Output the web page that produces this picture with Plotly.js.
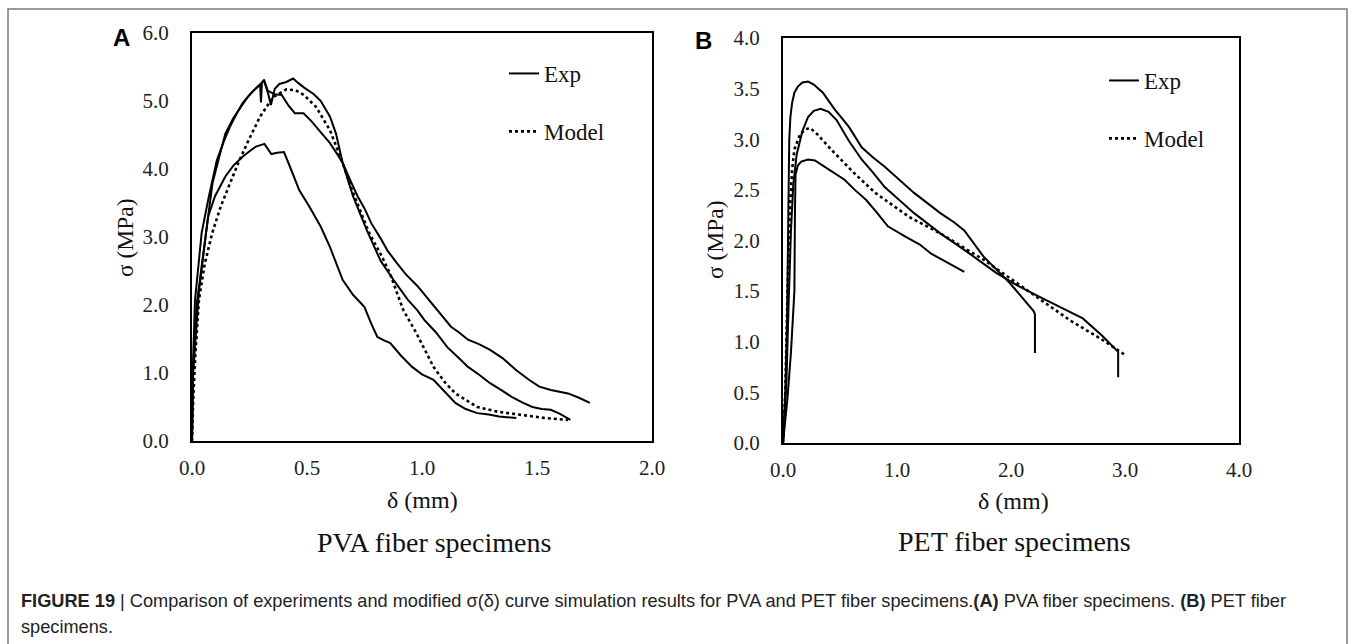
<!DOCTYPE html>
<html>
<head>
<meta charset="utf-8">
<script src="https://cdn.plot.ly/plotly-3.0.1.min.js"></script>
<style>html,body{margin:0;padding:0;background:#fff;}#chart{width:1356px;height:644px;}</style>
</head>
<body>
<div id="chart"></div>
<script>
// ---- Panel A: PVA fiber specimens (delta mm, sigma MPa) ----
const pvaExp1X = [0,0.003,0.013,0.042,0.07,0.108,0.14,0.165,0.195,0.22,0.26,0.285,0.296,0.3,0.304,0.313,0.33,0.36,0.39,0.42,0.447,0.485,0.52,0.55,0.6,0.635,0.655,0.69,0.72,0.75,0.78,0.82,0.85,0.89,0.93,0.98,1.03,1.08,1.126,1.16,1.2,1.25,1.296,1.35,1.41,1.465,1.51,1.56,1.6,1.635,1.68,1.73];
const pvaExp1Y = [0,1.0,2.07,3.06,3.54,4.13,4.42,4.62,4.82,4.97,5.13,5.2,5.24,4.98,5.27,5.31,5.15,5.1,5.09,4.93,4.82,4.82,4.7,4.58,4.38,4.2,4.09,3.82,3.6,3.42,3.2,2.98,2.8,2.62,2.45,2.28,2.07,1.86,1.68,1.6,1.49,1.42,1.34,1.22,1.04,0.9,0.8,0.75,0.72,0.7,0.64,0.56];
const pvaExp2X = [0,0.004,0.02,0.051,0.089,0.12,0.145,0.18,0.21,0.24,0.27,0.3,0.313,0.33,0.343,0.36,0.38,0.41,0.44,0.46,0.486,0.53,0.56,0.6,0.626,0.655,0.7,0.76,0.82,0.88,0.94,0.98,1.01,1.06,1.11,1.16,1.2,1.25,1.296,1.34,1.39,1.44,1.48,1.52,1.56,1.6,1.645];
const pvaExp2Y = [0,1.0,2.0,2.8,3.79,4.2,4.52,4.75,4.91,5.05,5.16,5.26,5.3,5.12,4.94,5.18,5.25,5.28,5.33,5.27,5.2,5.1,5.0,4.77,4.52,4.09,3.6,3.1,2.65,2.35,2.07,1.92,1.78,1.6,1.38,1.22,1.09,0.97,0.85,0.76,0.65,0.56,0.5,0.47,0.46,0.4,0.31];
const pvaExp3X = [0,0.005,0.03,0.07,0.1,0.145,0.18,0.22,0.25,0.278,0.315,0.33,0.345,0.37,0.4,0.43,0.466,0.51,0.56,0.6,0.655,0.7,0.75,0.78,0.806,0.835,0.862,0.91,0.957,1.0,1.05,1.1,1.145,1.19,1.24,1.29,1.335,1.37,1.41];
const pvaExp3Y = [0,1.0,2.2,3.3,3.6,3.89,4.05,4.18,4.26,4.33,4.37,4.3,4.22,4.24,4.25,4.0,3.69,3.45,3.15,2.85,2.37,2.15,1.97,1.72,1.53,1.48,1.44,1.25,1.09,0.98,0.9,0.72,0.56,0.47,0.41,0.39,0.36,0.35,0.34];
const pvaModelX = [0,0.005,0.015,0.03,0.055,0.088,0.125,0.165,0.2,0.24,0.296,0.353,0.41,0.45,0.486,0.54,0.6,0.655,0.69,0.73,0.77,0.82,0.86,0.918,0.975,1.05,1.1,1.145,1.19,1.24,1.33,1.43,1.53,1.635];
const pvaModelY = [0,0.6,1.3,2.07,2.6,3.06,3.45,3.79,4.08,4.38,4.77,5.06,5.17,5.16,5.09,4.91,4.57,4.09,3.74,3.4,3.06,2.75,2.47,1.93,1.59,1.09,0.86,0.7,0.6,0.5,0.43,0.38,0.34,0.31];

// ---- Panel B: PET fiber specimens ----
const petExp1X = [0,0.02,0.035,0.045,0.055,0.065,0.08,0.1,0.13,0.17,0.22,0.27,0.35,0.45,0.58,0.69,0.79,0.89,1.0,1.15,1.38,1.5,1.59,1.76,1.99,2.2,2.21,2.21];
const petExp1Y = [0,0.5,1.2,2.2,3.0,3.22,3.36,3.46,3.52,3.56,3.57,3.54,3.46,3.3,3.12,2.92,2.82,2.73,2.62,2.47,2.27,2.18,2.1,1.84,1.58,1.3,1.27,0.89];
const petExp2X = [0,0.03,0.05,0.07,0.09,0.12,0.17,0.22,0.27,0.33,0.4,0.47,0.58,0.69,0.79,0.89,1.0,1.15,1.38,1.6,1.87,2.05,2.22,2.4,2.63,2.8,2.94,2.94];
const petExp2Y = [0,0.6,1.4,2.1,2.55,2.85,3.08,3.22,3.28,3.3,3.27,3.19,2.98,2.8,2.67,2.53,2.42,2.27,2.07,1.9,1.68,1.56,1.46,1.36,1.23,1.06,0.9,0.65];
const petExp3X = [0,0.04,0.07,0.09,0.1,0.105,0.11,0.13,0.16,0.22,0.28,0.35,0.45,0.54,0.63,0.73,0.82,0.92,1.07,1.2,1.3,1.45,1.59];
const petExp3Y = [0,0.45,0.9,1.25,1.5,2.3,2.65,2.74,2.78,2.8,2.79,2.74,2.67,2.6,2.5,2.4,2.28,2.14,2.04,1.96,1.87,1.78,1.69];
const petModelX = [0,0.02,0.04,0.06,0.08,0.1,0.15,0.2,0.24,0.3,0.43,0.62,0.81,1.11,1.38,1.76,2.14,2.52,2.8,3.0];
const petModelY = [0,0.5,1.5,2.3,2.7,2.9,3.05,3.1,3.11,3.05,2.89,2.67,2.47,2.23,2.07,1.81,1.51,1.21,1.02,0.87];

// tick labels
const pvaXTicks = [0, 0.5, 1.0, 1.5, 2.0];
const pvaYTicks = [0, 1, 2, 3, 4, 5, 6];
const petXTicks = [0, 1, 2, 3, 4];
const petYTicks = [0, 0.5, 1.0, 1.5, 2.0, 2.5, 3.0, 3.5, 4.0];

const W = 1356, H = 644;
const px = v => v / W;
const py = v => 1 - v / H;
const SERIF = '"Liberation Serif", "Times New Roman", serif';
const SANS = '"Liberation Sans", Arial, sans-serif';

const expLine = {color: '#000', width: 2};
const modelLine = {color: '#000', width: 2.6, dash: 'dot'};

function tr(x, y, xa, ya, line, name, show, leg, grp) {
  return {x, y, xaxis: xa, yaxis: ya, type: 'scatter', mode: 'lines', line,
          name, showlegend: show, legend: leg, legendgroup: grp, hoverinfo: 'skip'};
}

const data = [
  tr(pvaExp1X, pvaExp1Y, 'x', 'y', expLine, 'Exp', true, 'legend', 'e'),
  tr(pvaExp2X, pvaExp2Y, 'x', 'y', expLine, 'Exp', false, 'legend', 'e'),
  tr(pvaExp3X, pvaExp3Y, 'x', 'y', expLine, 'Exp', false, 'legend', 'e'),
  tr(pvaModelX, pvaModelY, 'x', 'y', modelLine, 'Model', true, 'legend', 'm'),
  tr(petExp1X, petExp1Y, 'x2', 'y2', expLine, 'Exp', true, 'legend2', 'e'),
  tr(petExp2X, petExp2Y, 'x2', 'y2', expLine, 'Exp', false, 'legend2', 'e'),
  tr(petExp3X, petExp3Y, 'x2', 'y2', expLine, 'Exp', false, 'legend2', 'e'),
  tr(petModelX, petModelY, 'x2', 'y2', modelLine, 'Model', true, 'legend2', 'm')
];

const tickFont = {family: SERIF, size: 21, color: '#222'};
function xax(domain, range, tv) {
  return {domain, range, tickvals: tv, tickformat: '.1f', ticks: '', showgrid: false, zeroline: false,
          showline: true, mirror: true, linecolor: '#000', linewidth: 2, tickfont: tickFont,
          ticklabelstandoff: 7, fixedrange: true};
}
function yax(domain, range, tv, anchor) {
  return {domain, range, tickvals: tv, tickformat: '.1f', ticks: '', showgrid: false, zeroline: false,
          showline: true, mirror: true, linecolor: '#000', linewidth: 2, tickfont: tickFont,
          ticklabelstandoff: 17, anchor, fixedrange: true};
}

const legendBase = {bgcolor: 'rgba(0,0,0,0)', borderwidth: 0, font: {family: SERIF, size: 23, color: '#111'},
                    traceorder: 'grouped', tracegroupgap: 25, xanchor: 'left', yanchor: 'top'};

const ann = (text, x, y, size, opts = {}) => Object.assign({
  text, x: px(x), y: py(y), xref: 'paper', yref: 'paper', showarrow: false,
  font: {family: SERIF, size, color: '#111'}, xanchor: 'center', yanchor: 'middle'}, opts);

const layout = {
  width: W, height: H, margin: {l: 0, r: 0, t: 0, b: 0},
  paper_bgcolor: '#fff', plot_bgcolor: '#fff', showlegend: true,
  xaxis: Object.assign(xax([px(192), px(652)], [0, 2], pvaXTicks), {anchor: 'y'}),
  yaxis: yax([py(441), py(33)], [0, 6], pvaYTicks, 'x'),
  xaxis2: Object.assign(xax([px(783), px(1239)], [0, 4], petXTicks), {anchor: 'y2'}),
  yaxis2: yax([py(443), py(38)], [0, 4], petYTicks, 'x2'),
  legend: Object.assign({}, legendBase, {x: px(504), y: py(52)}),
  legend2: Object.assign({}, legendBase, {x: px(1104), y: py(59)}),
  annotations: [
    ann('σ (MPa)', 125, 238, 23.5, {textangle: -90}),
    ann('δ (mm)', 422, 500, 24),
    ann('PVA fiber specimens', 434, 542, 28),
    ann('σ (MPa)', 715, 240, 23.5, {textangle: -90}),
    ann('δ (mm)', 1013, 501, 24),
    ann('PET fiber specimens', 1014, 541, 28),
    ann('<b>A</b>', 121, 38, 24, {font: {family: SANS, size: 24, color: '#000'}}),
    ann('<b>B</b>', 703, 40, 24, {font: {family: SANS, size: 24, color: '#000'}}),
    ann('<b>FIGURE 19</b> | Comparison of experiments and modified σ(δ) curve simulation results for PVA and PET fiber specimens.<b>(A)</b> PVA fiber specimens. <b>(B)</b> PET fiber',
        19, 601, 18.2, {xanchor: 'left', font: {family: SANS, size: 18.2, color: '#222'}}),
    ann('specimens.', 19, 627, 18.2, {xanchor: 'left', font: {family: SANS, size: 18.2, color: '#222'}})
  ],
  shapes: [
    {type: 'rect', xref: 'paper', yref: 'paper', x0: px(8), x1: px(1347), y0: -0.05, y1: py(9),
     line: {color: '#7a7a7a', width: 1.5}, fillcolor: 'rgba(0,0,0,0)', layer: 'below'}
  ]
};

Plotly.newPlot('chart', data, layout, {displayModeBar: false, staticPlot: true});
</script>
</body>
</html>
